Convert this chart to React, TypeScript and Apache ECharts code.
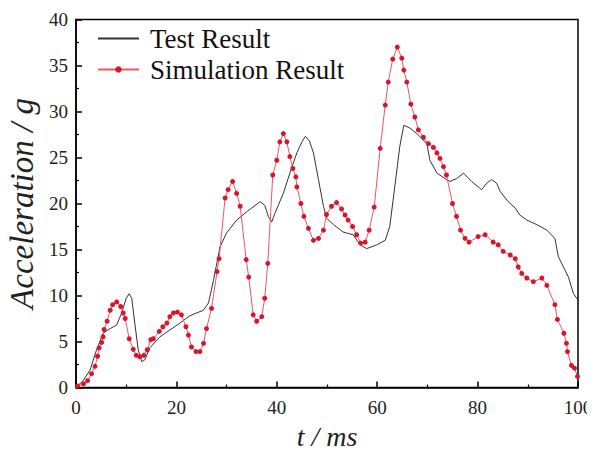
import React, { useEffect, useRef } from "react";
import * as echarts from "echarts";

const xTicks = [0, 20, 40, 60, 80, 100];
const yTicks = [0, 5, 10, 15, 20, 25, 30, 35, 40];

const testData: [number, number][] = [
  [0, 0], [1.5, 0.8], [2.8, 1.9], [4.1, 4.1], [5.4, 5.9], [6.8, 6.4], [8.1, 6.8], [9.1, 8.1],
  [10, 9.7], [10.6, 10.2], [11.1, 9.7], [11.8, 6.6], [12.4, 4.1], [13.1, 2.8], [13.7, 3.0],
  [14.7, 4.3], [16.7, 5.5], [18.7, 6.25], [20.7, 7.0], [22.7, 7.8], [24, 8.1], [25.4, 8.4],
  [26.4, 9.2], [27.4, 11.7], [28.7, 15.3], [30, 16.8], [32, 18.2], [34, 19.1], [36.7, 20.2],
  [37.6, 19.8], [38.3, 18.6], [39, 18.0], [39.6, 18.9], [41.3, 21.1], [42.6, 23.3], [44, 25.5],
  [45, 26.7], [45.7, 27.3], [46.5, 26.8], [47.3, 25.5], [48.3, 22.6], [49.3, 19.7], [49.9, 18.4],
  [51.3, 17.7], [53.2, 16.9], [55.2, 16.6], [56.6, 15.5], [57.9, 15.1], [59.9, 15.5], [61.6, 16.0],
  [62.5, 17.5], [63.5, 21.8], [64.5, 26.2], [65.3, 28.5], [66.5, 28.2], [67.9, 27.6], [69.9, 26.5],
  [70.5, 24.7], [71.9, 23.3], [73.8, 22.6], [74.5, 22.4], [75.8, 22.7], [77.2, 23.3], [78.8, 22.4],
  [80.8, 21.5], [81.8, 22.2], [82.8, 22.6], [83.8, 22.2], [84.5, 21.3], [86.1, 20.2], [87.5, 19.5],
  [88.4, 18.75], [89.8, 18.2], [91.8, 17.7], [93.8, 17.1], [95.4, 16.2], [96.1, 14.2], [97.1, 13.1],
  [98.1, 12.0], [99.1, 10.2], [100, 9.5],
];

const simData: [number, number][] = [
  [0.3, 0.16], [1.5, 0.4], [2.3, 0.74], [3.1, 1.5], [3.8, 2.3], [4.3, 3.4], [4.6, 4.3], [5.1, 4.9],
  [5.4, 5.5], [5.6, 6.3], [6.2, 7.2], [6.8, 8.4], [7.3, 9.0], [8.1, 9.3], [8.9, 8.8], [9.4, 8.1],
  [9.8, 7.5], [10.6, 5.3], [11.4, 4.15], [12.0, 3.5], [12.7, 3.35], [13.5, 3.5], [14.2, 4.1],
  [14.9, 5.2], [15.4, 5.3], [16.6, 6.1], [17.3, 6.6], [18.1, 7.0], [18.7, 7.7], [19.4, 8.1],
  [20.2, 8.2], [21.0, 7.9], [21.9, 6.6], [22.4, 5.7], [23.0, 4.4], [23.9, 3.9], [24.7, 3.9],
  [25.4, 4.8], [26, 6.4], [27, 8.6], [28.1, 12.6], [28.5, 14.0], [29.7, 20.6], [30.3, 21.5],
  [31.2, 22.4], [32, 21.1], [32.7, 19.7], [33.9, 13.9], [34.4, 12.0], [35.3, 7.9], [36, 7.2],
  [37, 7.7], [37.6, 9.7], [38.2, 13.5], [39.2, 23.1], [40, 24.7], [40.6, 26.7], [41.3, 27.6],
  [42, 26.7], [42.6, 25.1], [43.2, 23.8], [43.8, 22.9], [44, 21.8], [44.8, 20.0], [45.4, 18.6],
  [46.3, 17.3], [47.3, 16.0], [48.3, 16.2], [49.3, 17.1], [49.9, 18.8], [50.9, 19.7], [51.9, 20.1],
  [52.9, 19.4], [53.6, 18.75], [54.2, 18.2], [55.1, 17.5], [55.9, 16.6], [56.7, 15.7], [57.6, 15.8],
  [58.4, 17.1], [59.4, 19.6], [60.6, 26.0], [61.6, 30.7], [62.2, 33.2], [63.1, 35.7], [64.0, 37.0],
  [64.9, 35.8], [65.3, 34.5], [65.9, 33.2], [66.7, 30.8], [67.5, 29.4], [68.2, 28.0], [69.2, 27.2],
  [70.2, 26.5], [71.2, 26.1], [71.9, 25.5], [72.5, 24.9], [73.2, 24.0], [73.8, 23.1], [75, 20.0],
  [75.8, 18.6], [76.6, 17.1], [77.5, 16.2], [78.3, 15.8], [80.1, 16.4], [81.5, 16.6], [83.1, 15.8],
  [84.1, 15.5], [85.1, 14.8], [86.5, 14.4], [87.5, 14.0], [88.1, 13.1], [88.8, 12.4], [89.8, 11.9],
  [91.1, 11.5], [92.8, 11.9], [93.8, 11.1], [95.4, 9.0], [95.9, 7.4], [97.2, 5.9], [97.7, 4.8],
  [97.9, 3.9], [98.7, 2.4], [99.3, 2.1], [99.9, 1.2],
];

const seriesNames = ["Test Result", "Simulation Result"];
const xTitle = "t / ms";
const yTitle = "Acceleration / g";

const serif = "'Liberation Serif', 'DejaVu Serif', serif";

export default function App() {
  const ref = useRef<HTMLDivElement>(null);
  useEffect(() => {
    if (!ref.current) return;
    const chart = echarts.init(ref.current, undefined, { renderer: "svg" });
    chart.setOption({
      animation: false,
      backgroundColor: "#fff",
      grid: {
        left: 76,
        right: 17,
        top: 19.5,
        bottom: 69.5,
        outerBoundsMode: "none",
        containLabel: false,
        show: true,
        borderColor: "#000",
        borderWidth: 1.5,
        backgroundColor: "transparent",
      },
      legend: {
        orient: "vertical",
        left: 92,
        top: 20,
        itemWidth: 41,
        itemHeight: 8,
        itemGap: 4,
        textStyle: { fontFamily: serif, fontSize: 27, color: "#111", padding: [0, 0, 0, 6] },
        data: [
          { name: seriesNames[0], itemStyle: { opacity: 0 } },
          { name: seriesNames[1] },
        ],
      },
      xAxis: {
        type: "value",
        min: 0,
        max: 100,
        interval: 20,
        name: xTitle,
        nameLocation: "middle",
        nameGap: 35,
        nameTextStyle: { fontFamily: serif, fontSize: 28, fontStyle: "italic", color: "#222" },
        axisLine: { lineStyle: { color: "#000", width: 1.5 } },
        axisTick: { inside: true, length: 6, lineStyle: { color: "#000", width: 1.5 } },
        minorTick: { show: true, splitNumber: 2, length: 3, lineStyle: { color: "#000", width: 1.2 } },
        splitLine: { show: false },
        axisLabel: {
          fontFamily: serif,
          fontSize: 19,
          color: "#222",
          margin: 10,
          customValues: xTicks,
        },
      },
      yAxis: {
        type: "value",
        min: 0,
        max: 40,
        interval: 5,
        name: yTitle,
        nameLocation: "middle",
        nameGap: 31,
        nameTextStyle: { fontFamily: serif, fontSize: 33, fontStyle: "italic", color: "#222" },
        axisLine: { lineStyle: { color: "#000", width: 1.5 } },
        axisTick: { inside: true, length: 6, lineStyle: { color: "#000", width: 1.5 } },
        minorTick: { show: true, splitNumber: 2, length: 3, lineStyle: { color: "#000", width: 1.2 } },
        splitLine: { show: false },
        axisLabel: { fontFamily: serif, fontSize: 19, color: "#222", margin: 8, customValues: yTicks },
      },
      series: [
        {
          name: seriesNames[0],
          type: "line",
          data: testData,
          symbol: "none",
          lineStyle: { color: "#333", width: 1 },
          itemStyle: { color: "#333" },
          z: 2,
        },
        {
          name: seriesNames[1],
          type: "line",
          data: simData,
          symbol: "circle",
          symbolSize: 5,
          lineStyle: { color: "#ee5566", width: 1 },
          itemStyle: { color: "#d8162a" },
          z: 3,
        },
      ],
    });
    return () => chart.dispose();
  }, []);
  return <div ref={ref} style={{ width: 595, height: 457, margin: -8 }} />;
}
